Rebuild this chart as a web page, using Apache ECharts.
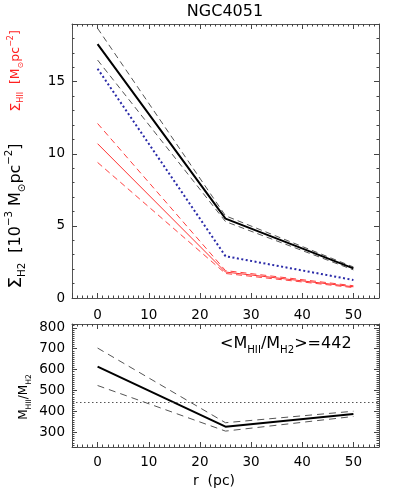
<!DOCTYPE html>
<html>
<head>
<meta charset="utf-8">
<script src="https://cdn.jsdelivr.net/npm/echarts@6/dist/echarts.min.js"></script>
<style>
    html, body { margin: 0; padding: 0; background: #fff; }
    #chart { width: 399px; height: 498px; }
</style>
</head>
<body>
<div id="chart"></div>
<script>
    // radial bins (pc)
    var radius = [0, 25, 50];

    // top panel: surface densities
    var h2Mean = [17.6, 5.5, 2.05];
    var h2Upper = [18.7, 5.7, 2.15];
    var h2Lower = [16.5, 5.3, 1.95];
    var h2Dotted = [15.9, 2.9, 1.25];
    var hiiMean = [10.7, 1.8, 0.78];
    var hiiUpper = [12.1, 1.9, 0.85];
    var hiiLower = [9.4, 1.7, 0.72];

    // bottom panel: mass ratio
    var ratioMean = [614, 327, 388];
    var ratioUpper = [703, 346, 401];
    var ratioLower = [524, 306, 376];
    var ratioAverage = 442;

    var FONT = 'DejaVu Sans';
    var FRAME = '#555';
    var TICK = '#444';

    function pairs(ys) {
        var out = [];
        for (var i = 0; i < radius.length; i++) {
            out.push([radius[i], ys[i]]);
        }
        return out;
    }

    function lineSerie(x, y, ys, color, width, dash) {
        return {
            type: 'line',
            xAxisIndex: x,
            yAxisIndex: y,
            data: pairs(ys),
            symbol: 'none',
            silent: true,
            lineStyle: {color: color, width: width, type: dash || 'solid'}
        };
    }

    // only label round values, the axis ends are not nice numbers
    function stepLabel(step) {
        return function (v) {
            return Math.abs(v % step) < 1e-6 ? String(v) : '';
        };
    }

    function xAxisDef(grid, pos, labels) {
        return {
            type: 'value',
            gridIndex: grid,
            position: pos,
            min: -5,
            max: 55,
            axisLine: {show: true, onZero: false, lineStyle: {color: FRAME, width: 1}},
            axisTick: {show: true, inside: true, length: 5, lineStyle: {color: TICK, width: 1}},
            minorTick: {show: true, splitNumber: 10, length: 2.5, lineStyle: {color: TICK, width: 1}},
            splitLine: {show: false},
            axisLabel: {
                show: labels,
                formatter: stepLabel(10),
                color: '#000',
                fontFamily: FONT,
                fontSize: 13.5,
                margin: grid === 0 ? 10 : 8
            }
        };
    }

    function yAxisDef(grid, pos, labels, min, max, step, minorSplit) {
        return {
            type: 'value',
            gridIndex: grid,
            position: pos,
            min: min,
            max: max,
            interval: min % step === 0 ? step : undefined,
            axisLine: {show: true, onZero: false, lineStyle: {color: FRAME, width: 1}},
            axisTick: {show: true, inside: true, length: 5, lineStyle: {color: TICK, width: 1}},
            minorTick: {show: true, splitNumber: minorSplit, length: 2.5, lineStyle: {color: TICK, width: 1}},
            splitLine: {show: false},
            axisLabel: {
                show: labels,
                formatter: stepLabel(step),
                color: '#000',
                fontFamily: FONT,
                fontSize: 13.5,
                margin: 7
            }
        };
    }

    function richStyles(size) {
        var small = Math.round(size * 0.64 * 10) / 10;
        return {
            n: {fontFamily: FONT, fontSize: size, lineHeight: size * 1.45, verticalAlign: 'middle'},
            sup: {fontFamily: FONT, fontSize: small, lineHeight: small, verticalAlign: 'top'},
            sub: {fontFamily: FONT, fontSize: small, lineHeight: small + 1, verticalAlign: 'bottom'},
            big: {fontFamily: FONT, fontSize: size * 1.15, lineHeight: size * 1.45, verticalAlign: 'middle'}
        };
    }

    function richText(x, y, text, color, size, rotate, align) {
        return {
            type: 'text',
            x: x,
            y: y,
            rotation: rotate ? Math.PI / 2 : 0,
            silent: true,
            style: {
                text: text,
                fill: color,
                align: align || 'center',
                verticalAlign: 'middle',
                rich: richStyles(size)
            }
        };
    }

    var option = {
        animation: false,
        backgroundColor: '#fff',
        grid: [
            {left: 72, right: 20, top: 24, height: 274, outerBoundsMode: 'none'},
            {left: 72, right: 20, top: 324, height: 123, outerBoundsMode: 'none'}
        ],
        xAxis: [
            xAxisDef(0, 'bottom', true),
            xAxisDef(0, 'top', false),
            xAxisDef(1, 'bottom', true),
            xAxisDef(1, 'top', false)
        ],
        yAxis: [
            yAxisDef(0, 'left', true, 0, 19, 5, 5),
            yAxisDef(0, 'right', false, 0, 19, 5, 5),
            yAxisDef(1, 'left', true, 230, 818, 100, 10),
            yAxisDef(1, 'right', false, 230, 818, 100, 10)
        ],
        series: [
            lineSerie(0, 0, h2Upper, '#555', 1, [6, 4]),
            lineSerie(0, 0, h2Lower, '#555', 1, [6, 4]),
            lineSerie(0, 0, hiiUpper, '#ff4040', 1, [6, 4]),
            lineSerie(0, 0, hiiLower, '#ff4040', 1, [6, 4]),
            lineSerie(0, 0, hiiMean, '#ff3030', 1),
            lineSerie(0, 0, h2Dotted, '#2a2aa8', 2, [2, 2.5]),
            lineSerie(0, 0, h2Mean, '#000', 2),
            lineSerie(2, 2, ratioUpper, '#555', 1, [7, 5]),
            lineSerie(2, 2, ratioLower, '#555', 1, [7, 5]),
            (function () {
                var s = lineSerie(2, 2, ratioMean, '#000', 2);
                s.markLine = {
                    silent: true,
                    symbol: 'none',
                    label: {show: false},
                    lineStyle: {color: '#555', width: 1, type: [1.5, 2.5]},
                    data: [{yAxis: ratioAverage}]
                };
                return s;
            })()
        ],
        graphic: [
            richText(225, 12, '{n|NGC4051}', '#000', 16),
            richText(16, 216, '{big|Σ}{sub|H2}{n|  [10}{sup|−3}{n| M}{sub|⊙}{n|pc}{sup|−2}{n|]}', '#000', 16, true),
            richText(16, 71, '{big|Σ}{sub|HII}{n|  [M}{sub|⊙}{n|pc}{sup|−2}{n|]}', '#ff2020', 12.5, true),
            richText(24, 397, '{n|M}{sub|HII}{n|/M}{sub|H2}', '#000', 12, true),
            richText(220, 344, '{n|<M}{sub|HII}{n|/M}{sub|H2}{n|>=' + ratioAverage + '}', '#000', 16, false, 'left'),
            richText(214, 481, '{n|r  (pc)}', '#000', 14)
        ]
    };

    var chart = echarts.init(document.getElementById('chart'), null, {renderer: 'canvas'});
    chart.setOption(option);
</script>
</body>
</html>
